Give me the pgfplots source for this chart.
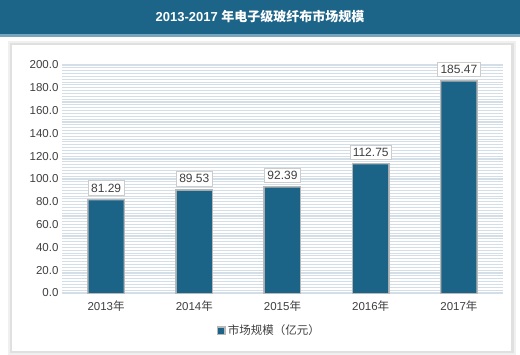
\documentclass[border=0pt]{standalone}
\usepackage{fontspec}
\setmainfont{Liberation Sans}
\newfontfamily\cjk{Noto Sans CJK SC}
\usepackage{pgfplots}
\pgfplotsset{compat=1.18}
\definecolor{barc}{RGB}{27,100,135}
\definecolor{titlec}{RGB}{28,100,136}
\definecolor{stripe}{RGB}{212,222,231}
\begin{document}
\begin{tikzpicture}[x=1pt,y=1pt]
\path[use as bounding box] (0,0) rectangle (520,355);
% title bar
\fill[titlec] (0,321) rectangle (520,355);
\fill[color={rgb,255:red,120;green,165;blue,190}] (0,318) rectangle (520,321);
\node[text=white, font=\bfseries\fontsize{13}{15}\selectfont] at (260,338) {2013-2017 {\cjk 年电子级玻纤布市场规模}};
% panel with shadow
\fill[black!12] (9,1) rectangle (515,313);
\fill[black!6] (8,0) rectangle (516,314);
\fill[black!12] (10,2) rectangle (514,312);
\fill[white] (12,4) rectangle (511,310);
\begin{axis}[
  at={(62pt,62pt)}, anchor=south west,
  scale only axis, width=441pt, height=228pt,
  xmin=-0.5, xmax=4.5, ymin=0, ymax=200,
  xtick={0,1,2,3,4},
  xticklabels={2013{\cjk 年},2014{\cjk 年},2015{\cjk 年},2016{\cjk 年},2017{\cjk 年}},
  ytick={0,20,...,200},
  minor y tick num=7,
  grid=both,
  xmajorgrids=false, xminorgrids=false,
  major grid style={stripe, line width=1.1pt},
  minor grid style={stripe, line width=1.1pt},
  axis line style={draw=none},
  major tick length=0pt, minor tick length=0pt,
  yticklabel style={/pgf/number format/fixed, /pgf/number format/fixed zerofill, /pgf/number format/precision=1, text=black!75, font=\fontsize{11.5}{13}\selectfont},
  xticklabel style={text=black!75, font=\fontsize{11.5}{13}\selectfont, yshift=-4pt},
  /pgf/number format/assume math mode=true,
  ybar, bar width=35pt,
  nodes near coords,
  nodes near coords style={/pgf/number format/fixed, /pgf/number format/fixed zerofill, /pgf/number format/precision=2, font=\fontsize{12}{14}\selectfont, text=black!75, fill=white, draw=black!20, inner sep=3pt, anchor=south, yshift=5pt},
  legend style={at={(0.47,-0.165)}, anchor=center, draw=none, fill=white, font=\fontsize{11.5}{13}\selectfont, text=black!75},
  legend image code/.code={\fill[barc] (0pt,-3pt) rectangle (6pt,3pt);},
  clip=false,
]
\addplot[fill=barc, draw=none, preaction={draw=black!28, line width=3pt}] coordinates {(0,81.29) (1,89.53) (2,92.39) (3,112.75) (4,185.47)};
\addlegendentry{{\cjk 市场规模（亿元）}}
\end{axis}
\end{tikzpicture}
\end{document}
